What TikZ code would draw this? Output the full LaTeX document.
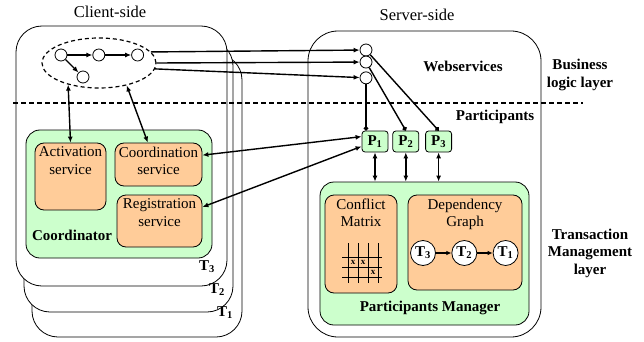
\documentclass[tikz,border=0pt]{standalone}
\usepackage{fontspec}
\setmainfont{Liberation Serif}
\usepackage{tikz}
\usetikzlibrary{arrows.meta,positioning,shapes.geometric}
\definecolor{PaleGreen}{HTML}{CCFFCC}
\definecolor{Apricot}{HTML}{FFCC99}

\begin{document}
\begin{tikzpicture}[
  x=1pt,y=-1pt,
  txt/.style={font=\fontsize{15}{17.5}\selectfont,align=center,inner sep=1pt},
  btxt/.style={txt,font=\fontsize{15}{17.5}\selectfont\bfseries},
  side/.style={draw,line width=0.8pt,fill=white,rounded corners=26pt},
  group/.style={draw,line width=0.8pt,fill=PaleGreen,rounded corners=14pt},
  svc/.style={draw,line width=0.8pt,fill=Apricot,rounded corners=9pt},
  pbox/.style={draw,line width=0.8pt,fill=PaleGreen,rounded corners=3pt,
               minimum width=26pt,minimum height=21pt,inner sep=0pt,
               font=\fontsize{15}{17}\selectfont\bfseries},
  op/.style={circle,draw,line width=0.8pt,fill=white,minimum size=12pt,inner sep=0pt},
  txn/.style={circle,draw,line width=0.8pt,fill=white,minimum size=25pt,inner sep=0pt,
              font=\fontsize{15}{17}\selectfont\bfseries},
  xmark/.style={inner sep=0pt,font=\fontsize{9}{9}\selectfont\bfseries},
  arr/.style={-{Latex[length=6pt,width=5pt]},line width=1.4pt},
  darr/.style={{Latex[length=6pt,width=5pt]}-{Latex[length=6pt,width=5pt]},line width=1.4pt},
  dot/.style={-{Circle[length=4.5pt]},line width=1.4pt}
]
\useasboundingbox (0,0) rectangle (644,342);

% client side: one stacked box per transaction
\node[side,minimum width=210pt,minimum height=283pt] (t1box) at (137,195.5) {};
\node[side,minimum width=209pt,minimum height=272pt] (t2box) at (128.5,176) {};
\node[side,minimum width=211pt,minimum height=260pt] (t3box) at (121.5,156) {};
\node[btxt] (t1) at (225,313) {T\textsubscript{1}};
\node[btxt] (t2) at (217,290) {T\textsubscript{2}};
\node[btxt] (t3) at (207,267) {T\textsubscript{3}};
\node[font=\fontsize{16.5}{19}\selectfont] (clienttitle) at (110,12) {Client-side};

% server side
\node[side,rounded corners=30pt,minimum width=233pt,minimum height=306pt] (server) at (424.5,184) {};
\node[font=\fontsize{16.5}{19}\selectfont] (servertitle) at (417,15) {Server-side};

% coordinator and its services
\node[group,minimum width=186pt,minimum height=128pt] (coordinator) at (119,194) {};
\node[btxt] (coordlabel) at (72,235) {Coordinator};
\node[svc,minimum width=71pt,minimum height=67pt] (act) at (70.5,176.5) {};
\node[txt,below=3pt of act.north] (acttext) {Activation\\service};
\node[svc,minimum width=87pt,minimum height=43pt] (coord) at (158.5,164.5) {};
\node[txt,below=3pt of coord.north] (coordtext) {Coordination\\service};
\node[svc,minimum width=85pt,minimum height=52pt] (reg) at (159.5,221) {};
\node[txt,below=3pt of reg.north] (regtext) {Registration\\service};

% business process
\node[ellipse,draw,line width=1.2pt,dash pattern=on 4pt off 3pt,
      minimum width=114pt,minimum height=50pt,inner sep=0pt] (ens) at (99,63) {};
\node[op] (c1) at (61,55) {};
\node[op,right=25pt of c1] (c2) {};
\node[op,right=26pt of c2] (c3) {};
\node[op] (c4) at (83,77) {};
\draw[arr] (c1) -- (c2);
\draw[arr] (c2) -- (c3);
\draw[arr] (c1) -- (c4);

% webservices and participants
\node[op] (ws1) at (366,50) {};
\node[op,below=3pt of ws1.south east,anchor=north east] (ws2) {};
\node[op,below=3pt of ws2] (ws3) {};
\node[pbox] (p1) at (375,141.5) {P\textsubscript{1}};
\node[pbox,right=4pt of p1] (p2) {P\textsubscript{2}};
\node[pbox,right=6pt of p2] (p3) {P\textsubscript{3}};
\node[btxt] (wslabel) at (463,66) {Webservices};
\node[btxt] (partlabel) at (495,117) {Participants};

% participants manager
\node[group,minimum width=209pt,minimum height=143pt] (pm) at (424.5,253.5) {};
\node[btxt] (pmlabel) at (430,308) {Participants Manager};
\node[svc,minimum width=72pt,minimum height=98pt] (cm) at (361,244) {};
\node[txt,below=3pt of cm.north] (cmtext) {Conflict\\Matrix};
\node[svc,minimum width=114pt,minimum height=95pt] (dg) at (465,242.5) {};
\node[txt,below=3pt of dg.north] (dgtext) {Dependency\\Graph};

% conflict matrix grid
\foreach \x in {348,358,368,378}
  \draw[line width=0.9pt] (\x,243) -- (\x,283);
\foreach \y in {257,267,277}
  \draw[line width=0.9pt] (342,\y) -- (382,\y);
\foreach \x/\y [count=\i] in {353/262,363/262,373/272}
  \node[xmark] (cell\i) at (\x,\y) {x};

% dependency graph
\node[txn] (dt3) at (423,253) {T\textsubscript{3}};
\node[txn,right=15.5pt of dt3] (dt2) {T\textsubscript{2}};
\node[txn,right=15.5pt of dt2] (dt1) {T\textsubscript{1}};
\draw[arr,-{Latex[length=5pt,width=4.5pt]}] (dt3) -- (dt2);
\draw[arr,-{Latex[length=5pt,width=4.5pt]}] (dt2) -- (dt1);

% layers
\node[btxt] (bizlayer) at (580,75) {Business\\logic layer};
\node[btxt] (txlayer) at (590,253) {Transaction\\Management\\layer};
\draw[line width=1.2pt,dash pattern=on 5pt off 3pt] (13,103) -- (583,103);

% connectors
\draw[arr] (ens.12) -- (ws1);
\draw[arr] (ens.0) -- (ws2);
\draw[arr] (ens.-6) -- (ws3);
\draw[darr] (ens.215) -- (act.north);
\draw[darr] (ens.-39) -- (coord.116);
\draw[darr] (coord.12) -- (p1.160);
\draw[darr] (reg.18) -- (p1.200);
\draw[dot] (ws3) -- (ws3 |- p1.north);
\draw[dot] (ws2) -- (p2.north);
\draw[dot] (ws1) -- (p3.north);
\foreach \p in {p1,p2,p3}
  \draw[darr] (\p.south) -- (\p.south |- pm.north);
\end{tikzpicture}
\end{document}
